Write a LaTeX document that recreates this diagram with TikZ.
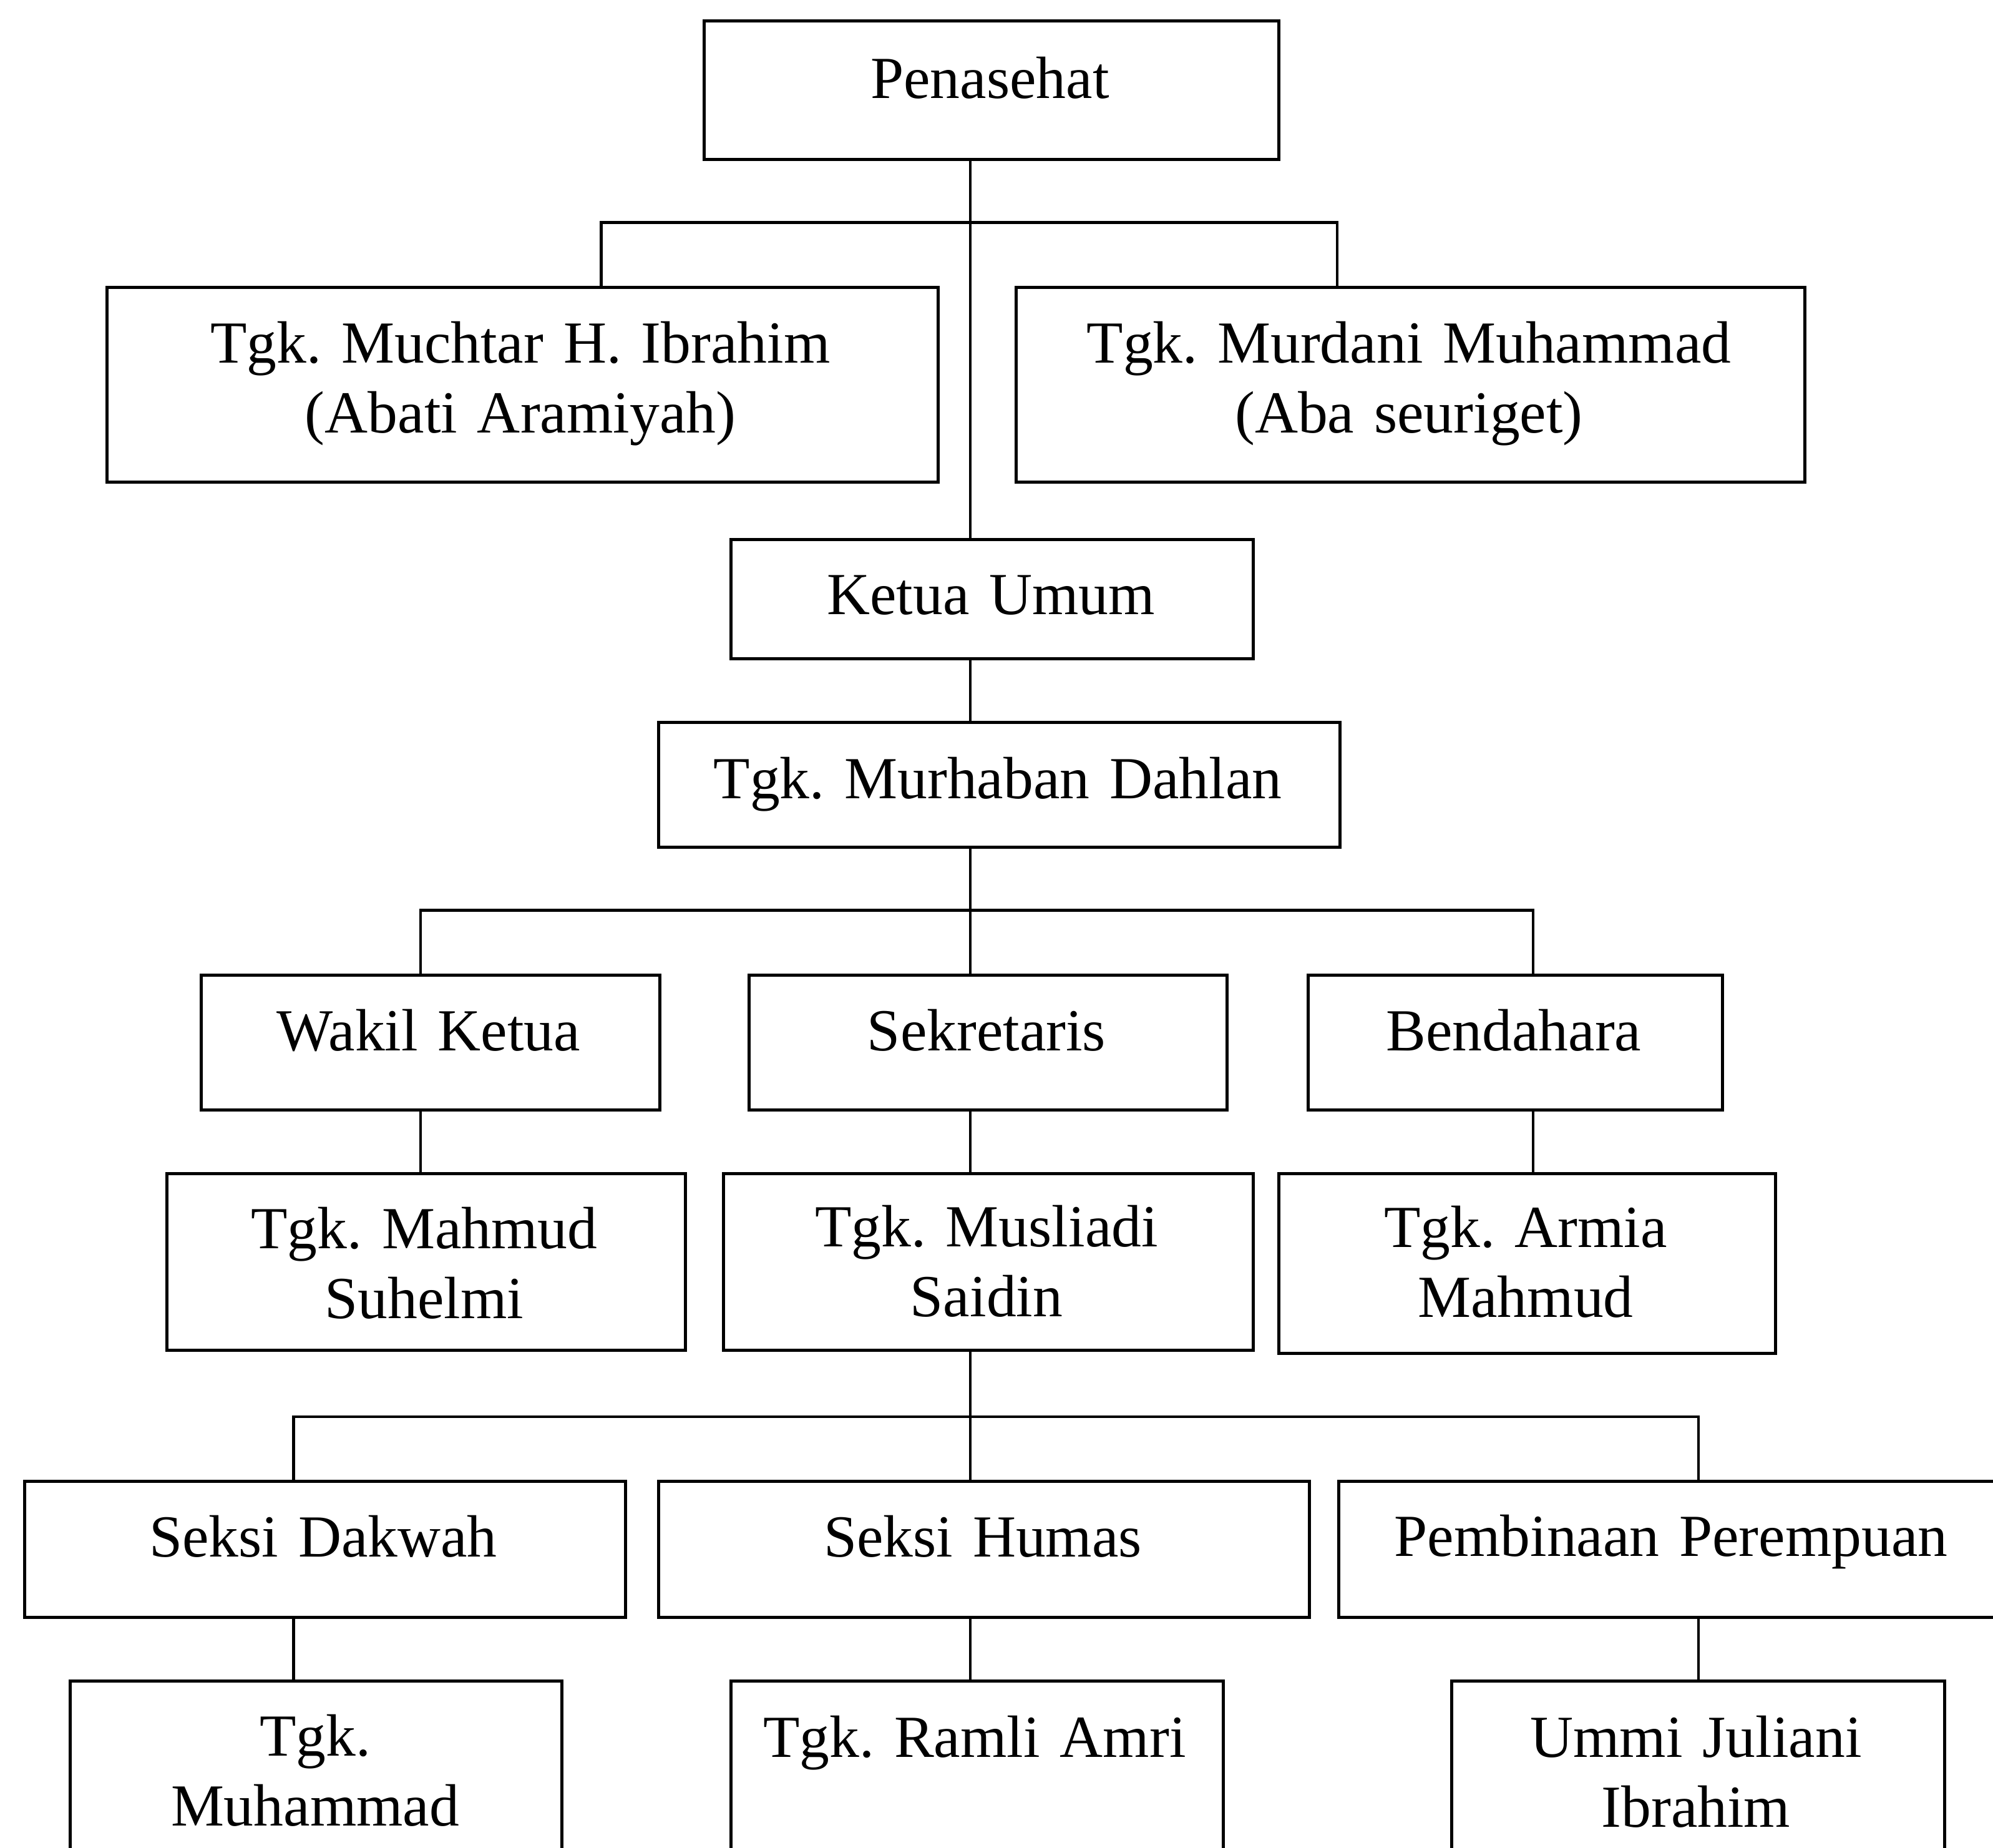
\documentclass[tikz,border=0pt]{standalone}
\usepackage{fontspec}
\setmainfont{Liberation Serif}
\frenchspacing
\begin{document}
\begin{tikzpicture}[
  box/.style={draw=black, line width=1.4pt, rectangle, inner sep=0pt, anchor=north west},
  conn/.style={draw=black, line width=1.2pt},
  lbl/.style={inner sep=0pt, anchor=base, text width=14cm, align=center,
    font=\fontsize{27.2pt}{31.9pt}\selectfont\frenchspacing}
]
\useasboundingbox (0,0) rectangle (31.94,-29.61);
\fill[white] (0,0) rectangle (31.94,-29.61);
\clip (0,0) rectangle (31.94,-29.61);

% boxes
\node[box, minimum width=9.21cm,  minimum height=2.22cm] (pen)    at (11.26,-0.31) {};
\node[box, minimum width=13.32cm, minimum height=3.12cm] (much)   at (1.69,-4.58) {};
\node[box, minimum width=12.64cm, minimum height=3.12cm] (murd)   at (16.26,-4.58) {};
\node[box, minimum width=8.37cm,  minimum height=1.91cm] (ketua)  at (11.69,-8.62) {};
\node[box, minimum width=10.92cm, minimum height=2.00cm] (murh)   at (10.53,-11.55) {};
\node[box, minimum width=7.35cm,  minimum height=2.16cm] (wakil)  at (3.20,-15.60) {};
\node[box, minimum width=7.66cm,  minimum height=2.16cm] (sekr)   at (11.98,-15.60) {};
\node[box, minimum width=6.64cm,  minimum height=2.16cm] (bend)   at (20.94,-15.60) {};
\node[box, minimum width=8.31cm,  minimum height=2.83cm] (mahm)   at (2.65,-18.78) {};
\node[box, minimum width=8.49cm,  minimum height=2.83cm] (musl)   at (11.57,-18.78) {};
\node[box, minimum width=7.96cm,  minimum height=2.88cm] (armia)  at (20.47,-18.78) {};
\node[box, minimum width=9.63cm,  minimum height=2.18cm] (dakwah) at (0.37,-23.71) {};
\node[box, minimum width=10.43cm, minimum height=2.18cm] (humas)  at (10.53,-23.71) {};
\node[box, minimum width=10.70cm, minimum height=2.18cm] (pemb)   at (21.43,-23.71) {};
\node[box, minimum width=7.88cm,  minimum height=4.00cm] (muh)    at (1.10,-26.91) {};
\node[box, minimum width=7.89cm,  minimum height=4.00cm] (ramli)  at (11.69,-26.91) {};
\node[box, minimum width=7.90cm,  minimum height=4.00cm] (ummi)   at (23.24,-26.91) {};

% texts
\node[lbl] (penT)    at (15.865,-1.57) {Penasehat};
\node[lbl] (muchT)   at (8.34,-5.81)   {Tgk. Muchtar H. Ibrahim\\(Abati Aramiyah)};
\node[lbl] (murdT)   at (22.58,-5.81)  {Tgk. Murdani Muhammad\\(Aba seuriget)};
\node[lbl] (ketuaT)  at (15.88,-9.84)  {Ketua Umum};
\node[lbl] (murhT)   at (15.99,-12.79) {Tgk. Murhaban Dahlan};
\node[lbl] (wakilT)  at (6.87,-16.83)  {Wakil Ketua};
\node[lbl] (sekrT)   at (15.81,-16.83) {Sekretaris};
\node[lbl] (bendT)   at (24.26,-16.83) {Bendahara};
\node[lbl] (mahmT)   at (6.80,-20.00)  {Tgk. Mahmud\\Suhelmi};
\node[lbl] (muslT)   at (15.81,-19.97) {Tgk. Musliadi\\Saidin};
\node[lbl] (armiaT)  at (24.45,-19.98) {Tgk. Armia\\Mahmud};
\node[lbl] (dakwahT) at (5.18,-24.94)  {Seksi Dakwah};
\node[lbl] (humasT)  at (15.75,-24.94) {Seksi Humas};
\node[lbl] (pembT)   at (26.78,-24.93) {Pembinaan Perempuan};
\node[lbl] (muhT)    at (5.05,-28.13)  {Tgk.\\Muhammad};
\node[lbl] (ramliT)  at (15.62,-28.15) {Tgk. Ramli Amri};
\node[lbl] (ummiT)   at (27.18,-28.15) {Ummi Juliani\\Ibrahim};

% junction coordinates
\coordinate (t1)  at (15.55,-3.565);
\coordinate (h1l) at (9.635,-3.565);
\coordinate (h1r) at (21.43,-3.565);
\coordinate (h2l) at (6.74,-14.585);
\coordinate (h2r) at (24.57,-14.585);
\coordinate (h3l) at (4.705,-22.70);
\coordinate (h3r) at (27.22,-22.70);

% connectors
\draw[conn] (pen.south -| t1) -- (ketua.north -| t1);
\draw[conn] (much.north -| h1l) |- (h1r) -- (murd.north -| h1r);
\draw[conn] (ketua.south -| t1) -- (murh.north -| t1);
\draw[conn] (murh.south -| t1) -- (sekr.north -| t1);
\draw[conn] (wakil.north -| h2l) |- (h2r) -- (bend.north -| h2r);
\draw[conn] (wakil.south -| h2l) -- (mahm.north -| h2l);
\draw[conn] (sekr.south -| t1) -- (musl.north -| t1);
\draw[conn] (bend.south -| h2r) -- (armia.north -| h2r);
\draw[conn] (musl.south -| t1) -- (humas.north -| t1);
\draw[conn] (dakwah.north -| h3l) |- (h3r) -- (pemb.north -| h3r);
\draw[conn] (dakwah.south -| h3l) -- (muh.north -| h3l);
\draw[conn] (humas.south -| t1) -- (ramli.north -| t1);
\draw[conn] (pemb.south -| h3r) -- (ummi.north -| h3r);
\end{tikzpicture}
\end{document}
